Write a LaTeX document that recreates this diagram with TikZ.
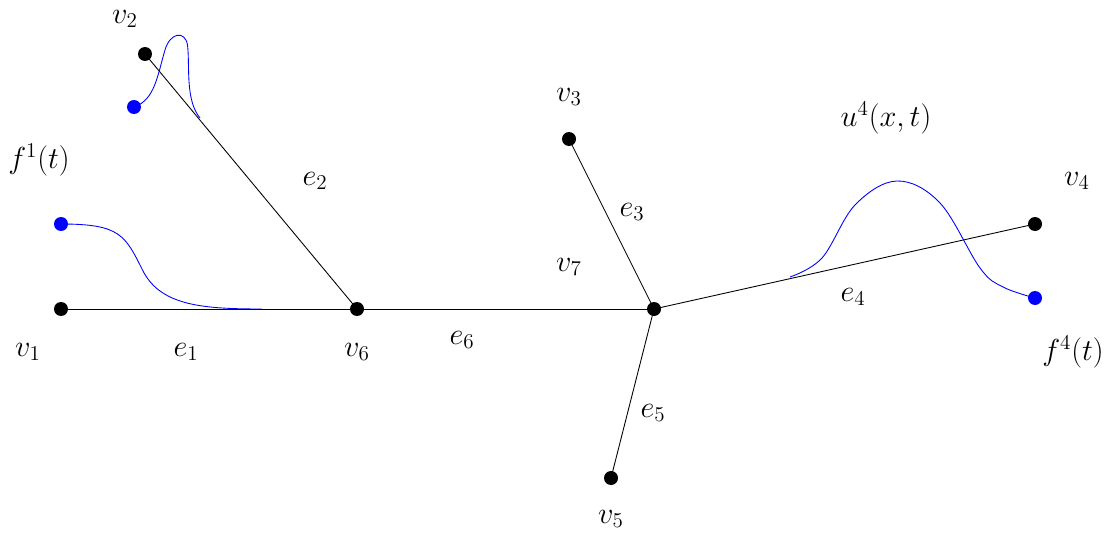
\documentclass[tikz,border=0pt]{standalone}
\usepackage{amsmath}
\usepackage{amssymb}
\usepackage{tikz}
\usetikzlibrary{
	arrows.meta,
	positioning,
	calc
}
\usepackage{xcolor}

\tikzset{
	vert/.style={circle,fill=black,inner sep=0pt,minimum size=0.28cm},
	bvert/.style={circle,fill=blue,inner sep=0pt,minimum size=0.28cm},
	lbl/.style={font=\LARGE},
	sol/.style={blue,line width=0.5pt}
}

\begin{document}
\begin{tikzpicture}[line width=0.5pt]
			\useasboundingbox (0,0) rectangle (22.22,10.7);
			
			% vertices
			\node[vert] (v1) at (1.22,4.52) {};
			\node[vert] (v6) at (7.14,4.52) {};
			\node[vert] (v7) at (13.08,4.52) {};
			\node[vert] (v2) at (2.90,9.62) {};
			\node[vert] (v3) at (11.38,7.92) {};
			\node[vert] (v4) at (20.70,6.22) {};
			\node[vert] (v5) at (12.22,1.14) {};
			
			\node[bvert] (f1) at (1.22,6.22) {};
			\node[bvert] (f2) at (2.68,8.56) {};
			\node[bvert] (f4) at (20.70,4.74) {};
			
			% edges
			\draw (v1.center)--(v6.center);
			\draw (v2.center)--(v6.center);
			\draw (v6.center)--(v7.center);
			\draw (v3.center)--(v7.center);
			\draw (v7.center)--(v4.center);
			\draw (v7.center)--(v5.center);
			
			% labels
			\node[lbl] (lv1) at (0.56,3.66) {$v_1$};
			\node[lbl] (lv2) at (2.50,10.32) {$v_2$};
			\node[lbl] (lv3) at (11.38,8.76) {$v_3$};
			\node[lbl] (lv4) at (21.54,7.08) {$v_4$};
			\node[lbl] (lv5) at (12.22,0.32) {$v_5$};
			\node[lbl] (lv6) at (7.14,3.66) {$v_6$};
			\node[lbl] (lv7) at (11.38,5.36) {$v_7$};
			
			\node[lbl] (le1) at (3.72,3.66) {$e_1$};
			\node[lbl] (le2) at (6.30,7.08) {$e_2$};
			\node[lbl] (le3) at (12.64,6.46) {$e_3$};
			\node[lbl] (le4) at (17.06,4.76) {$e_4$};
			\node[lbl] (le5) at (13.06,2.44) {$e_5$};
			\node[lbl] (le6) at (9.24,3.90) {$e_6$};
			
			\node[lbl] (lf1) at (0.78,7.50) {$f^1(t)$};
			\node[lbl] (lf4) at (21.46,3.66) {$f^4(t)$};
			\node[lbl] (lu4) at (17.72,8.34) {$u^4(x,t)$};
			
			% solutions
			\draw[sol] (f1.center) .. controls (2.4,6.22) and (2.5,6.0) .. (2.85,5.3)
			.. controls (3.2,4.6) and (4.0,4.52) .. (5.24,4.52);
			
			\draw[sol] (f2.center) .. controls (3.1,8.7) and (3.15,9.2) .. (3.3,9.7)
			.. controls (3.4,10.05) and (3.7,10.1) .. (3.75,9.8)
			.. controls (3.8,9.4) and (3.7,8.7) .. (4.0,8.34);
			
			\draw[sol] plot[smooth,tension=0.6] coordinates
			{(15.8,5.16) (16.44,5.54) (17.1,6.6) (17.94,7.08) (18.8,6.64) (19.6,5.34) (20.06,4.96) (20.70,4.74)};
			
		\end{tikzpicture}
\end{document}
